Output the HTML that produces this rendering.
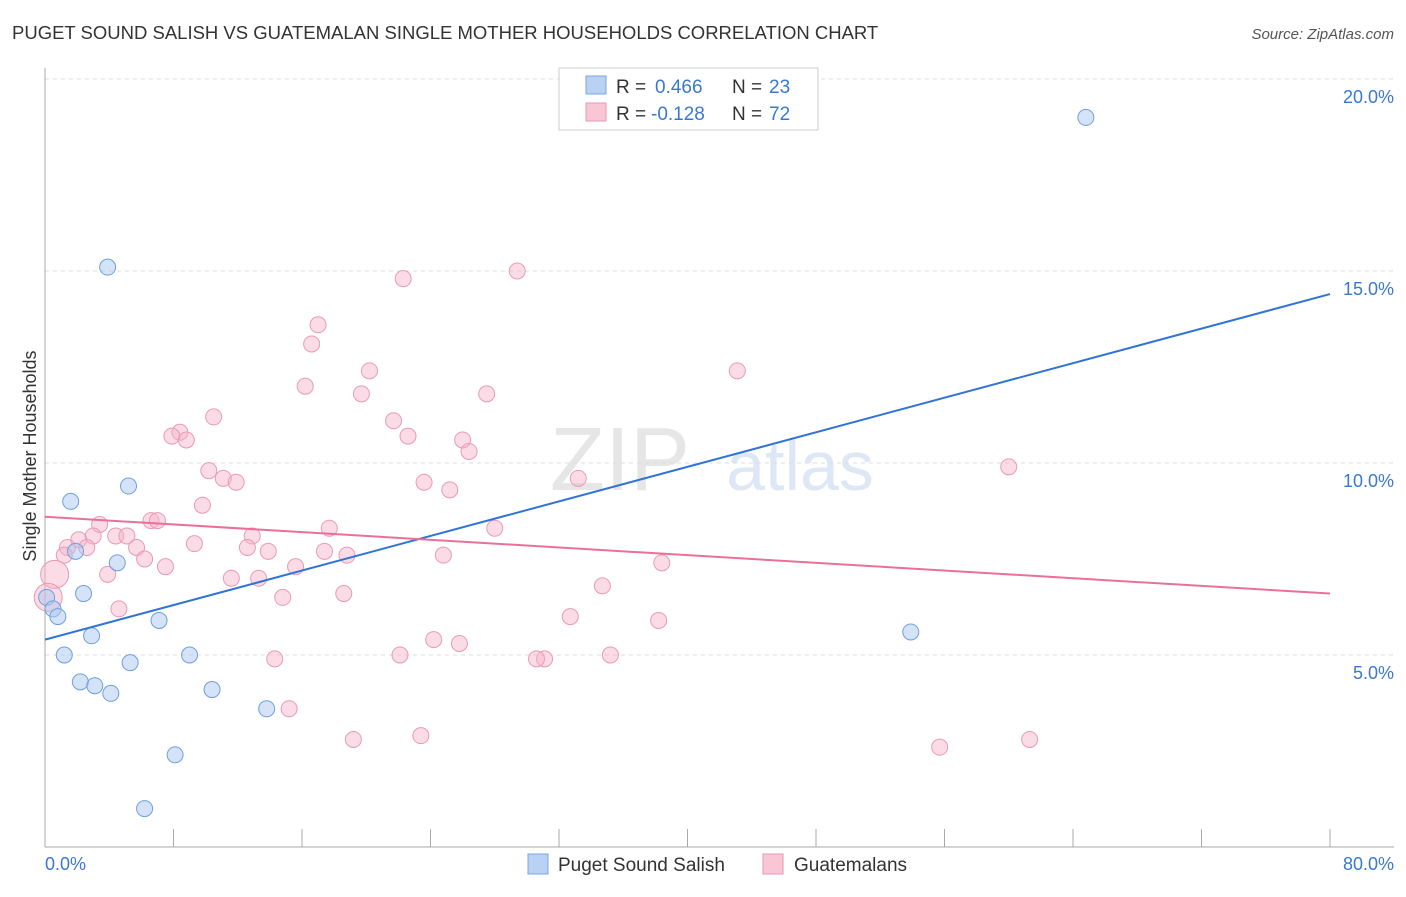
<!DOCTYPE html>
<html><head><meta charset="utf-8"><style>
body{margin:0;background:#fff;font-family:"Liberation Sans",sans-serif;}
svg text{font-family:"Liberation Sans",sans-serif;}
</style></head><body>
<svg id="c" width="1406" height="892">
<text x="12" y="39" font-size="18.5" fill="#333">PUGET SOUND SALISH VS GUATEMALAN SINGLE MOTHER HOUSEHOLDS CORRELATION CHART</text>
<text x="1394" y="39" font-size="15" fill="#555" font-style="italic" text-anchor="end">Source: ZipAtlas.com</text>
<text x="620" y="490" font-size="90" fill="#e6e6e6" font-family="Liberation Serif" text-anchor="middle">ZIP</text>
<text x="800" y="490" font-size="70" fill="#dde7f5" text-anchor="middle">atlas</text>
<g id="grid"></g><g id="pts"></g><g id="lines"></g>
<text x="36" y="456" font-size="18" fill="#333" transform="rotate(-90 36 456)" text-anchor="middle">Single Mother Households</text>
<text x="45" y="870" font-size="18" fill="#3a78d0">0.0%</text>
<text x="1394" y="870" font-size="18" fill="#3a78d0" text-anchor="end">80.0%</text>
<g>
<rect x="559" y="68" width="259" height="62" fill="#fff" stroke="#ccc"/>
<rect x="586" y="76" width="20" height="18" fill="#b9d2f3" stroke="#7aa6e0"/>
<text x="616" y="93" font-size="19" fill="#333">R =</text>
<text x="655" y="93" font-size="19" fill="#3a78d0">0.466</text>
<text x="732" y="93" font-size="19" fill="#333">N =</text>
<text x="769" y="93" font-size="19" fill="#3a78d0">23</text>
<rect x="586" y="103" width="20" height="18" fill="#f8c6d5" stroke="#e89ab2"/>
<text x="616" y="120" font-size="19" fill="#333">R =</text>
<text x="651" y="120" font-size="19" fill="#3a78d0">-0.128</text>
<text x="732" y="120" font-size="19" fill="#333">N =</text>
<text x="769" y="120" font-size="19" fill="#3a78d0">72</text>
</g>
<g>
<rect x="528" y="854" width="20" height="20" fill="#b9d2f3" stroke="#7aa6e0"/>
<text x="558" y="871" font-size="19" fill="#333">Puget Sound Salish</text>
<rect x="763" y="854" width="20" height="20" fill="#f8c6d5" stroke="#e89ab2"/>
<text x="794" y="871" font-size="19" fill="#333">Guatemalans</text>
</g>
</svg>
<script>
const yTicks=[5,10,15,20];
const xTicks=[0,8,16,24,32,40,48,56,64,72,80];
const blueX=[3.9,1.6,5.2,1.9,4.5,2.4,0.1,0.5,0.8,2.9,7.1,1.2,5.3,9.0,2.2,3.1,4.1,10.4,13.8,8.1,6.2,64.8,53.9];
const blueY=[15.1,9.0,9.4,7.7,7.4,6.6,6.5,6.2,6.0,5.5,5.9,5.0,4.8,5.0,4.3,4.2,4.0,4.1,3.6,2.4,1.0,19.0,5.6];
const pinkX=[22.3,29.4,17.0,16.6,20.2,16.2,19.7,27.5,43.1,10.5,21.7,8.4,7.9,8.8,22.6,26.0,26.4,10.2,11.1,11.9,23.6,25.2,33.2,60.0,9.8,6.6,7.0,3.4,17.7,28.0,3.0,4.4,5.1,12.9,2.1,2.6,1.4,5.7,9.3,12.6,13.9,17.4,18.8,24.8,1.2,6.2,7.5,38.4,3.9,15.6,11.6,13.3,34.7,18.6,14.8,0.6,0.2,4.6,32.7,38.2,24.2,25.8,22.1,35.2,31.1,30.6,14.3,15.2,19.2,23.4,55.7,61.3];
const pinkY=[14.8,15.0,13.6,13.1,12.4,12.0,11.8,11.8,12.4,11.2,11.1,10.8,10.7,10.6,10.7,10.6,10.3,9.8,9.6,9.5,9.5,9.3,9.6,9.9,8.9,8.5,8.5,8.4,8.3,8.3,8.1,8.1,8.1,8.1,8.0,7.8,7.8,7.8,7.9,7.8,7.7,7.7,7.6,7.6,7.6,7.5,7.3,7.4,7.1,7.3,7.0,7.0,6.8,6.6,6.5,7.1,6.5,6.2,6.0,5.9,5.4,5.3,5.0,5.0,4.9,4.9,4.9,3.6,2.8,2.9,2.6,2.8];
const blueLine=[5.4,14.4], pinkLine=[8.6,6.6];
const X=v=>45+v/80*1285, Y=v=>847-v/5*192;
const NS="http://www.w3.org/2000/svg";
function mk(t,a,p){const e=document.createElementNS(NS,t);for(const k in a)e.setAttribute(k,a[k]);p.appendChild(e);return e;}
const g=document.getElementById('grid');
yTicks.forEach(v=>{
 const l=mk('line',{x1:45,x2:1394,y1:Y(v),y2:Y(v),stroke:'#ddd','stroke-dasharray':'4,4'},g);
 
 
 const t=mk('text',{x:1394,y:Y(v)+24,'font-size':18,fill:'#3a78d0','text-anchor':'end'},g);t.textContent=v.toFixed(1)+'%';
 
 
});
mk('line',{x1:45,x2:45,y1:68,y2:847,stroke:'#aaa'},g);
mk('line',{x1:45,x2:1394,y1:847,y2:847,stroke:'#aaa'},g);
xTicks.forEach(v=>{
 const l=mk('line',{x1:X(v),x2:X(v),y1:829,y2:847,stroke:'#aaa'},g);
 
 
});
const p=document.getElementById('pts');
pinkX.forEach((v,i)=>{
 const r=(i==55||i==56)?14:8;
 const c=mk('circle',{cx:X(v),cy:Y(pinkY[i]),r:r,fill:'rgba(246,178,200,0.45)',stroke:'#e99ab4','stroke-width':1},p);
 
 
});
blueX.forEach((v,i)=>{
 const c=mk('circle',{cx:X(v),cy:Y(blueY[i]),r:8,fill:'rgba(170,200,240,0.5)',stroke:'#6f9fdc','stroke-width':1},p);
 
 
});
const L=document.getElementById('lines');
const bl=mk('line',{x1:X(0),y1:Y(blueLine[0]),x2:X(80),y2:Y(blueLine[1]),stroke:'#2f74d6','stroke-width':2},L);


const pl=mk('line',{x1:X(0),y1:Y(pinkLine[0]),x2:X(80),y2:Y(pinkLine[1]),stroke:'#e8709a','stroke-width':2},L);


</script>
</body></html>
